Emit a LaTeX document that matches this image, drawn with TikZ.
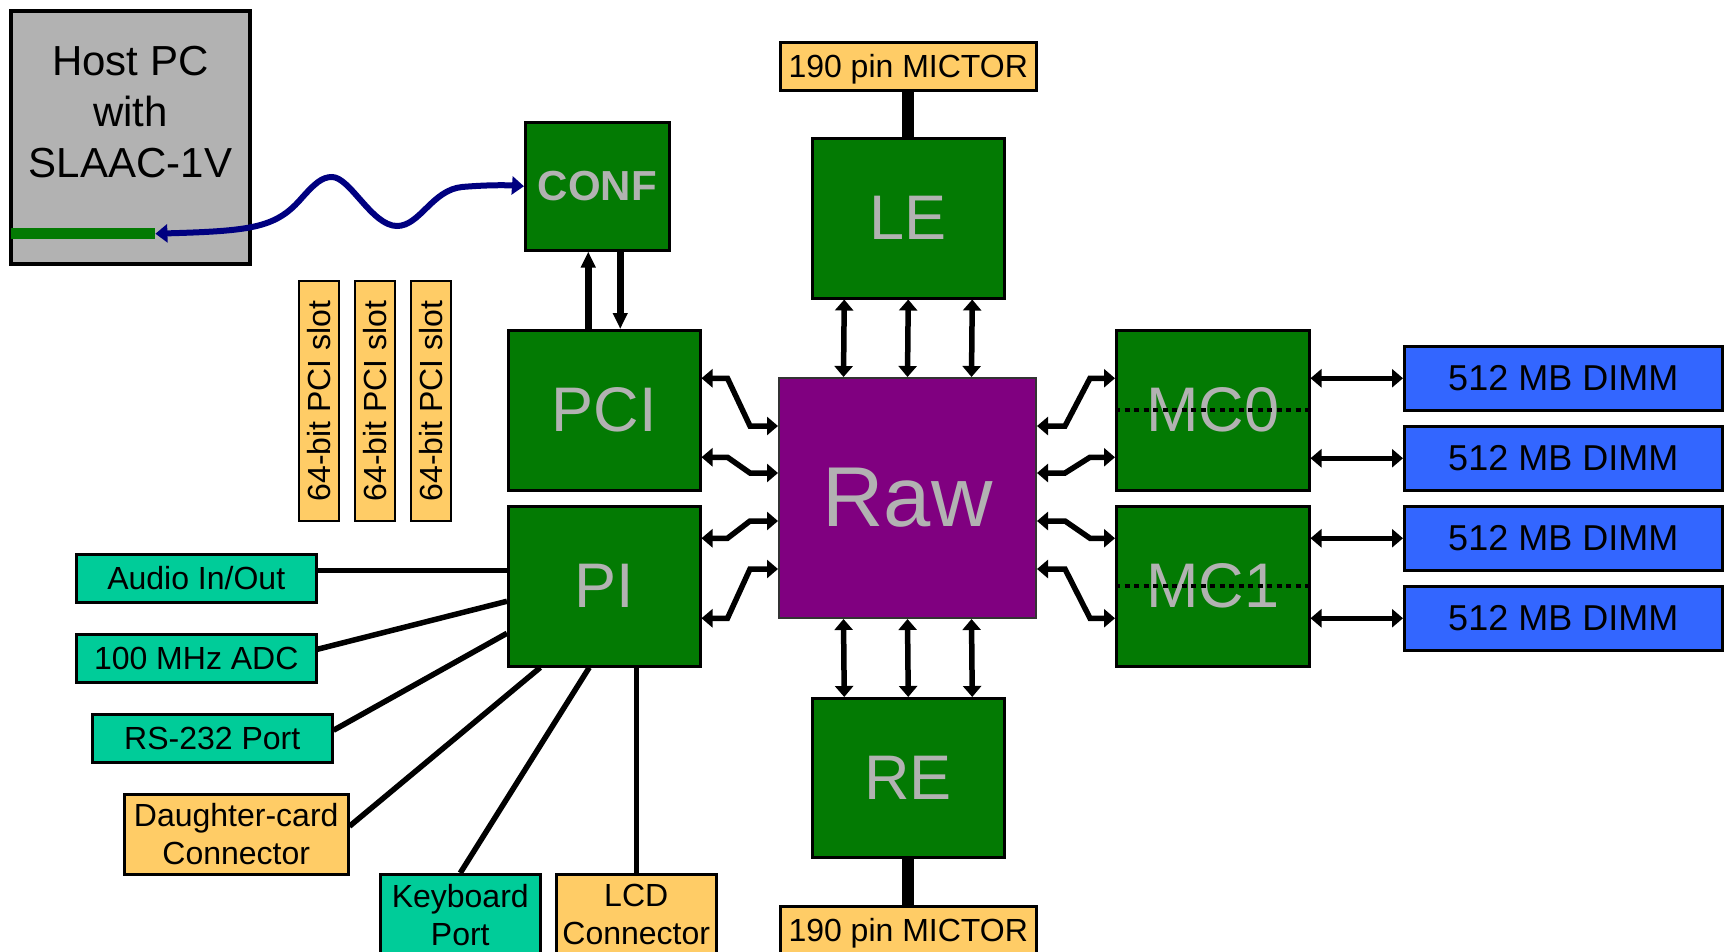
\documentclass[tikz,border=0pt]{standalone}
\usepackage{fontspec}
\setmainfont{Liberation Sans}
\usetikzlibrary{arrows.meta,calc,backgrounds}
\definecolor{boxgreen}{RGB}{3,122,3}
\definecolor{rawpurple}{RGB}{128,0,128}
\definecolor{dimmblue}{RGB}{51,102,255}
\definecolor{portteal}{RGB}{0,204,153}
\definecolor{connorange}{RGB}{255,204,102}
\definecolor{lblgray}{RGB}{178,178,178}
\definecolor{hostgray}{RGB}{178,178,178}
\definecolor{cablenavy}{RGB}{0,0,128}
\tikzset{
  blk/.style={draw=black, line width=2.5pt, fill=boxgreen, text=lblgray, inner sep=0pt,
    anchor=north west, minimum width=192pt, minimum height=160pt, font=\fontsize{63}{63}\selectfont},
  orbox/.style={draw=black, line width=2.5pt, fill=connorange, inner sep=0pt, anchor=north west,
    align=center, font=\fontsize{32}{38}\selectfont},
  tlbox/.style={orbox, fill=portteal},
  dimmbox/.style={orbox, fill=dimmblue, minimum width=318pt, minimum height=64pt,
    font=\fontsize{36}{40}\selectfont},
  slotbox/.style={draw=black, line width=2.5pt, fill=connorange, inner sep=0pt, rotate=90,
    minimum width=240pt, minimum height=40pt, font=\fontsize{32}{38}\selectfont},
  conn/.style={line width=5.5pt},
  thickconn/.style={line width=12pt},
  dbl/.style={line width=5.5pt, {Triangle[width=18pt,length=11pt]}-{Triangle[width=18pt,length=11pt]}},
  sgl/.style={line width=7pt, -{Triangle[width=14pt,length=16pt]}},
  cable/.style={draw=cablenavy, line width=6pt, {Triangle[width=18pt,length=12pt]}-{Triangle[width=18pt,length=12pt]}},
  dotline/.style={line width=4pt, dash pattern=on 5pt off 4.5pt}
}
\begin{document}
\begin{tikzpicture}[x=1pt,y=-1pt]
\clip (0,0) rectangle (1730,951);
\fill[white] (0,0) rectangle (1730,951);

% Host PC
\node[draw=black, line width=4pt, fill=hostgray, inner sep=0pt, anchor=north west,
  minimum width=239pt, minimum height=253pt] (host) at (9,9) {};
\node[align=center, font=\fontsize{42}{51}\selectfont, inner sep=0pt] (hosttext)
  at ($(host.north)+(0,103)$) {Host PC\\with\\SLAAC-1V};
\node[fill=boxgreen, inner sep=0pt, anchor=north west, minimum width=144pt, minimum height=11pt] (hostport) at (11,228) {};

% main blocks
\node[blk, minimum width=144pt, minimum height=128pt, font=\fontsize{42}{42}\selectfont\bfseries] (conf) at (524,121) {CONF};
\node[blk] (pci) at (507,329) {PCI};
\node[blk] (pi) at (507,505) {PI};
\node[blk] (le) at (811,137) {LE};
\node[blk, minimum height=159pt] (re) at (811,697) {RE};
\node[draw=black!80, line width=2pt, fill=rawpurple, text=lblgray, inner sep=0pt, anchor=north west,
  minimum width=257pt, minimum height=240pt, font=\fontsize{85}{85}\selectfont] (raw) at (778,377) {Raw};
\node[blk, minimum width=193pt] (mc0) at (1115,329) {MC0};
\node[blk, minimum width=193pt] (mc1) at (1115,505) {MC1};

% DIMMs
\node[dimmbox] (dimm1) at (1403,345) {512 MB DIMM};
\node[dimmbox] (dimm2) at (1403,425) {512 MB DIMM};
\node[dimmbox] (dimm3) at (1403,505) {512 MB DIMM};
\node[dimmbox] (dimm4) at (1403,585) {512 MB DIMM};

% MICTORs
\node[orbox, text depth=0pt, minimum width=256pt, minimum height=48pt] (mictt) at (779,41) {190 pin MICTOR};
\node[orbox, text depth=0pt, minimum width=256pt, minimum height=48pt] (mictb) at (779,905) {190 pin MICTOR};

% PCI slots
\node[slotbox] (slot1) at (319,401) {64-bit PCI slot};
\node[slotbox] (slot2) at (375,401) {64-bit PCI slot};
\node[slotbox] (slot3) at (431,401) {64-bit PCI slot};

% peripheral boxes
\node[tlbox, minimum width=240pt, minimum height=48pt] (audio) at (75,553) {Audio In/Out};
\node[tlbox, minimum width=240pt, minimum height=48pt] (adc) at (75,633) {100 MHz ADC};
\node[tlbox, minimum width=240pt, minimum height=48pt] (rs) at (91,713) {RS-232 Port};
\node[orbox, minimum width=224pt, minimum height=80pt] (daughter) at (123,793) {Daughter-card\\Connector};
\node[tlbox, minimum width=160pt, minimum height=81pt] (kbd) at (379,873) {Keyboard\\Port};
\node[orbox, minimum width=160pt, minimum height=81pt] (lcd) at (555,873) {LCD\\Connector};

% PCI slot bus line
\begin{scope}[on background layer]
\draw[conn] (slot1.center |- pci.west) -- (pci.west);
\end{scope}

% Host cable
\draw[cable] (hostport.east) .. controls (250,231) and (275,228) .. (300,200)
  .. controls (315,183) and (322,177) .. (332,177)
  .. controls (350,177) and (372,226) .. (397,226)
  .. controls (420,226) and (432,190) .. (462,187)
  .. controls (485,185) and (505,185) .. (conf.west);

% CONF <-> PCI
\draw[sgl] ($(pci.north)+(-16,0)$) coordinate (cu) -- (cu |- conf.south);
\coordinate (cd) at ($(pci.north)+(16,0)$);
\draw[sgl] (cd |- conf.south) -- (cd);

% MICTOR thick lines
\draw[thickconn] (mictt.south) -- (le.north);
\draw[thickconn] (re.south) -- (mictb.north);

% LE/RE <-> Raw
\foreach \dx in {-64,0,64} {
  \draw[dbl] ($(le.south)+(\dx,0)$) -- ($(raw.north)+(\dx,0)$);
  \draw[dbl] ($(raw.south)+(\dx,0)$) -- ($(re.north)+(\dx,0)$);
}

% PCI/PI <-> Raw
\draw[dbl] ($(pci.east)+(0,-32)$) -- ++(26,0) -- ($(raw.west)+(-28,-72)$) -- ($(raw.west)+(0,-72)$);
\draw[dbl] ($(pci.east)+(0,47)$) -- ++(26,0) -- ($(raw.west)+(-28,-25)$) -- ($(raw.west)+(0,-25)$);
\draw[dbl] ($(pi.east)+(0,-48)$) -- ++(26,0) -- ($(raw.west)+(-28,23)$) -- ($(raw.west)+(0,23)$);
\draw[dbl] ($(pi.east)+(0,32)$) -- ++(26,0) -- ($(raw.west)+(-28,71)$) -- ($(raw.west)+(0,71)$);

% Raw <-> MC0/MC1
\draw[dbl] ($(raw.east)+(0,-72)$) -- ++(28,0) -- ($(mc0.west)+(-25,-32)$) -- ($(mc0.west)+(0,-32)$);
\draw[dbl] ($(raw.east)+(0,-25)$) -- ++(28,0) -- ($(mc0.west)+(-25,47)$) -- ($(mc0.west)+(0,47)$);
\draw[dbl] ($(raw.east)+(0,23)$) -- ++(28,0) -- ($(mc1.west)+(-25,-48)$) -- ($(mc1.west)+(0,-48)$);
\draw[dbl] ($(raw.east)+(0,71)$) -- ++(28,0) -- ($(mc1.west)+(-25,32)$) -- ($(mc1.west)+(0,32)$);

% MC <-> DIMM
\draw[dbl] (mc0.east |- dimm1.west) -- (dimm1.west);
\draw[dbl] (mc0.east |- dimm2.west) -- (dimm2.west);
\draw[dbl] (mc1.east |- dimm3.west) -- (dimm3.west);
\draw[dbl] (mc1.east |- dimm4.west) -- (dimm4.west);

% dotted lines in MCs
\draw[dotline] (mc0.west) -- ($(mc0.east)+(-3,0)$);
\draw[dotline] (mc1.west) -- ($(mc1.east)+(-3,0)$);

% PI peripherals
\draw[conn] ($(audio.east)+(0,-8)$) coordinate (a1) -- (pi.west |- a1);
\draw[conn] ($(adc.east)+(0,-9)$) -- ($(pi.west)+(0,15)$);
\draw[conn] ($(rs.east)+(0,-8)$) -- ($(pi.west)+(0,47)$);
\draw[conn] ($(daughter.east)+(0,-8)$) -- ($(pi.south)+(-64,0)$);
\draw[conn] (kbd.north) -- ($(pi.south)+(-15,0)$);
\draw[conn] (lcd.north) -- (lcd.north |- pi.south);
\end{tikzpicture}
\end{document}
